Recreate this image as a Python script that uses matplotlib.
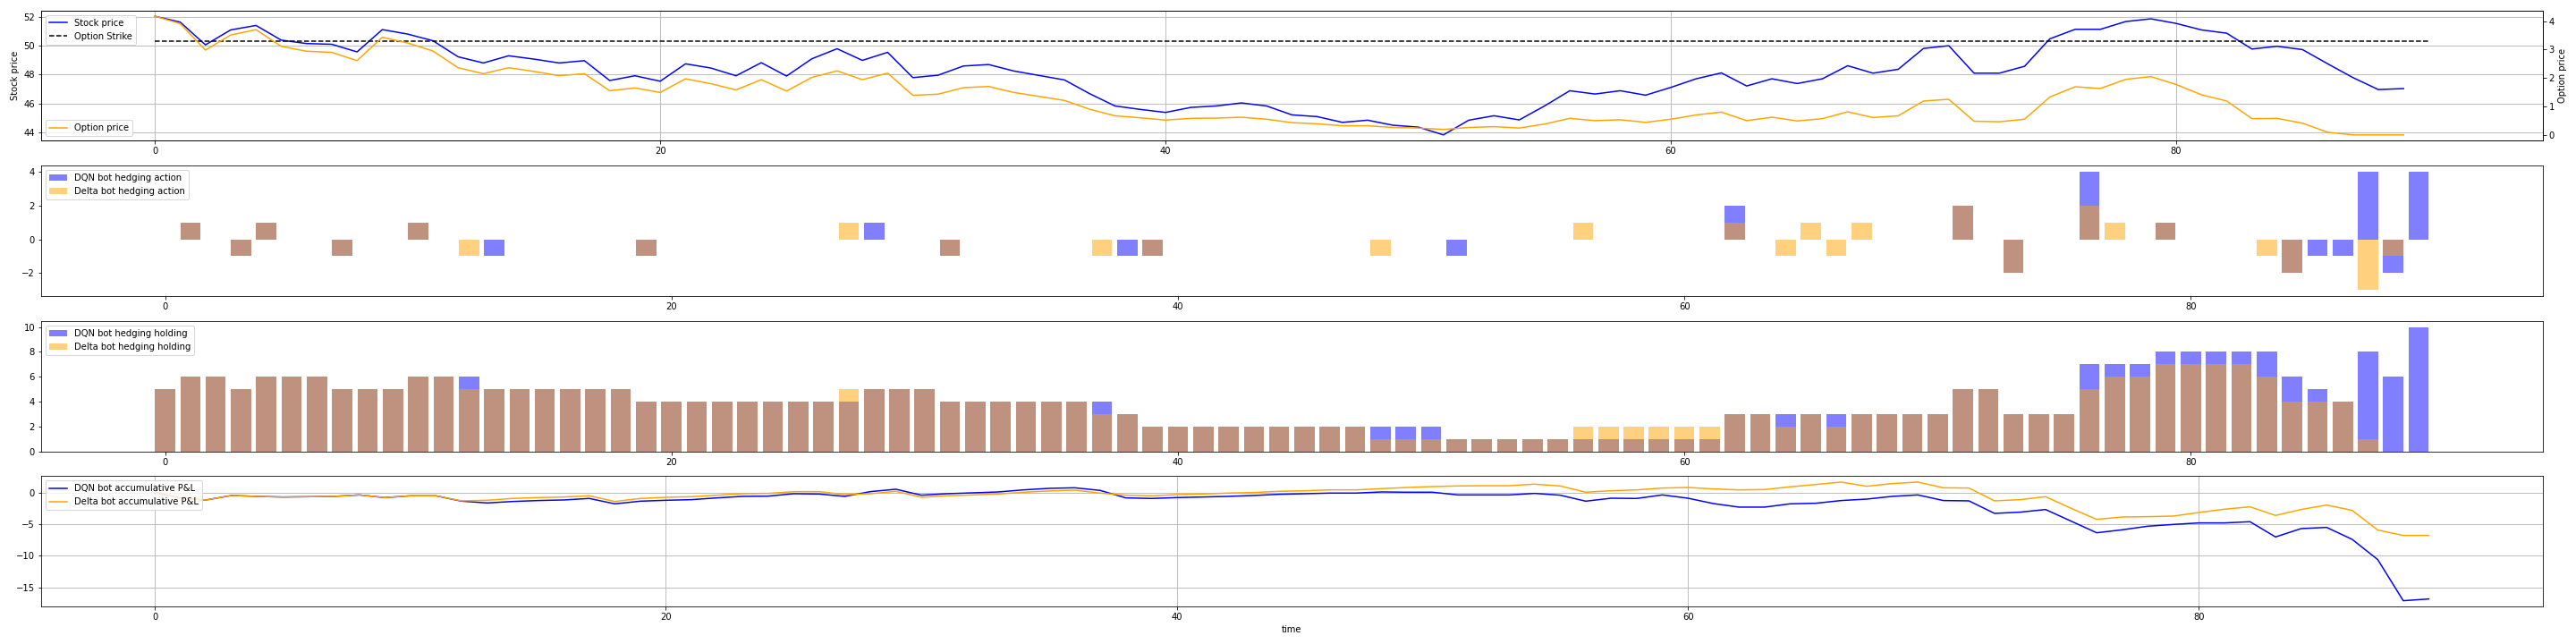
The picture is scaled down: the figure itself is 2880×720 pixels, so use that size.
#!/usr/bin/env python3
"""Hedging comparison: stock/option prices, hedging actions, holdings and P&L."""
import numpy as np
import matplotlib
matplotlib.use('Agg')
import matplotlib.pyplot as plt


# time steps
time = list(range(90))

stock_price = [
    52.06, 51.65, 50.07, 51.11, 51.42, 50.40, 50.16, 50.11, 49.58, 51.13,
    50.82, 50.36, 49.24, 48.81, 49.31, 49.08, 48.81, 48.97, 47.59, 47.92,
    47.54, 48.75, 48.46, 47.92, 48.83, 47.90, 49.10, 49.80, 48.99, 49.55,
    47.79, 47.96, 48.60, 48.70, 48.25, 47.94, 47.63, 46.67, 45.82, 45.58,
    45.37, 45.72, 45.82, 46.03, 45.82, 45.20, 45.08, 44.68, 44.83, 44.48,
    44.35, 43.81, 44.83, 45.14, 44.85, 45.82, 46.88, 46.65, 46.88, 46.57,
    47.11, 47.71, 48.12, 47.21, 47.71, 47.38, 47.71, 48.62, 48.10, 48.37,
    49.82, 50.01, 48.10, 48.10, 48.58, 50.49, 51.15, 51.15, 51.69, 51.88,
    51.56, 51.11, 50.88, 49.78, 49.97, 49.74, 48.75, 47.79, 46.96, 47.03,
]

option_price = [
    4.17, 3.91, 2.98, 3.51, 3.70, 3.11, 2.94, 2.90, 2.61, 3.43,
    3.23, 2.95, 2.36, 2.15, 2.36, 2.23, 2.08, 2.15, 1.55, 1.65,
    1.49, 1.97, 1.80, 1.58, 1.94, 1.54, 2.02, 2.25, 1.94, 2.17,
    1.39, 1.43, 1.66, 1.70, 1.49, 1.35, 1.21, 0.90, 0.67, 0.60,
    0.52, 0.58, 0.59, 0.62, 0.55, 0.43, 0.39, 0.32, 0.32, 0.26,
    0.24, 0.19, 0.26, 0.29, 0.24, 0.38, 0.58, 0.50, 0.53, 0.44,
    0.55, 0.70, 0.80, 0.50, 0.62, 0.49, 0.57, 0.81, 0.61, 0.67,
    1.19, 1.25, 0.48, 0.46, 0.55, 1.33, 1.69, 1.63, 1.95, 2.05,
    1.77, 1.41, 1.19, 0.57, 0.58, 0.41, 0.09, 0.00, 0.00, 0.00,
]

strike = 50.3
strike_span = (0, 90)

dqn_action = [
    0, 1, 0, -1, 1, 0, 0, -1, 0, 0,
    1, 0, 0, -1, 0, 0, 0, 0, 0, -1,
    0, 0, 0, 0, 0, 0, 0, 0, 1, 0,
    0, -1, 0, 0, 0, 0, 0, 0, -1, -1,
    0, 0, 0, 0, 0, 0, 0, 0, 0, 0,
    0, -1, 0, 0, 0, 0, 0, 0, 0, 0,
    0, 0, 2, 0, 0, 0, 0, 0, 0, 0,
    0, 2, 0, -2, 0, 0, 4, 0, 0, 1,
    0, 0, 0, 0, -2, -1, -1, 4, -2, 4,
]

delta_action = [
    0, 1, 0, -1, 1, 0, 0, -1, 0, 0,
    1, 0, -1, 0, 0, 0, 0, 0, 0, -1,
    0, 0, 0, 0, 0, 0, 0, 1, 0, 0,
    0, -1, 0, 0, 0, 0, 0, -1, 0, -1,
    0, 0, 0, 0, 0, 0, 0, 0, -1, 0,
    0, 0, 0, 0, 0, 0, 1, 0, 0, 0,
    0, 0, 1, 0, -1, 1, -1, 1, 0, 0,
    0, 2, 0, -2, 0, 0, 2, 1, 0, 1,
    0, 0, 0, -1, -2, 0, 0, -3, -1, 0,
]

dqn_holding = [
    5, 6, 6, 5, 6, 6, 6, 5, 5, 5,
    6, 6, 6, 5, 5, 5, 5, 5, 5, 4,
    4, 4, 4, 4, 4, 4, 4, 4, 5, 5,
    5, 4, 4, 4, 4, 4, 4, 4, 3, 2,
    2, 2, 2, 2, 2, 2, 2, 2, 2, 2,
    2, 1, 1, 1, 1, 1, 1, 1, 1, 1,
    1, 1, 3, 3, 3, 3, 3, 3, 3, 3,
    3, 5, 5, 3, 3, 3, 7, 7, 7, 8,
    8, 8, 8, 8, 6, 5, 4, 8, 6, 10,
]

delta_holding = [
    5, 6, 6, 5, 6, 6, 6, 5, 5, 5,
    6, 6, 5, 5, 5, 5, 5, 5, 5, 4,
    4, 4, 4, 4, 4, 4, 4, 5, 5, 5,
    5, 4, 4, 4, 4, 4, 4, 3, 3, 2,
    2, 2, 2, 2, 2, 2, 2, 2, 1, 1,
    1, 1, 1, 1, 1, 1, 2, 2, 2, 2,
    2, 2, 3, 3, 2, 3, 2, 3, 3, 3,
    3, 5, 5, 3, 3, 3, 5, 6, 6, 7,
    7, 7, 7, 6, 4, 4, 4, 1, 0, 0,
]

dqn_pnl = [
    0.00, -0.90, -1.18, -0.47, -0.61, -0.71, -0.66, -0.61, -0.38, -0.80,
    -0.52, -0.52, -1.37, -1.65, -1.42, -1.27, -1.18, -0.94, -1.79, -1.37,
    -1.23, -1.13, -0.85, -0.61, -0.57, -0.19, -0.24, -0.61, 0.14, 0.52,
    -0.42, -0.19, -0.05, 0.09, 0.42, 0.66, 0.75, 0.33, -0.85, -0.94,
    -0.80, -0.71, -0.61, -0.47, -0.28, -0.19, -0.09, -0.09, 0.09, 0.05,
    0.05, -0.38, -0.38, -0.38, -0.14, -0.42, -1.37, -0.90, -0.94, -0.38,
    -0.90, -1.75, -2.31, -2.31, -1.79, -1.70, -1.27, -1.04, -0.61, -0.38,
    -1.27, -1.32, -3.30, -3.11, -2.69, -4.53, -6.37, -5.90, -5.33, -5.05,
    -4.81, -4.81, -4.62, -7.03, -5.71, -5.52, -7.41, -10.61, -17.12, -16.84,
]

delta_pnl = [
    0.00, -0.90, -1.18, -0.47, -0.61, -0.71, -0.66, -0.61, -0.38, -0.80,
    -0.52, -0.52, -1.32, -1.23, -0.94, -0.80, -0.71, -0.52, -1.42, -0.94,
    -0.75, -0.66, -0.42, -0.19, -0.14, 0.14, 0.14, -0.33, -0.19, 0.19,
    -0.75, -0.52, -0.38, -0.24, 0.05, 0.24, 0.38, -0.09, -0.42, -0.52,
    -0.33, -0.24, -0.09, 0.00, 0.19, 0.28, 0.42, 0.42, 0.61, 0.80,
    0.94, 1.04, 1.08, 1.08, 1.32, 1.04, 0.05, 0.28, 0.42, 0.71,
    0.80, 0.57, 0.42, 0.47, 0.90, 1.27, 1.65, 0.99, 1.42, 1.65,
    0.75, 0.71, -1.32, -1.13, -0.66, -2.50, -4.25, -3.87, -3.82, -3.73,
    -3.16, -2.64, -2.26, -3.63, -2.69, -1.98, -2.83, -5.94, -6.79, -6.79,
]


def main():
    fig, axes = plt.subplots(4, 1, figsize=(40, 10), dpi=72)
    fig.subplots_adjust(left=0.016, right=0.987, top=0.984, bottom=0.058,
                        hspace=0.19)

    # prices
    ax = axes[0]
    ax.plot(time, stock_price, color='blue', label='Stock price')
    ax.hlines(strike, strike_span[0], strike_span[1], colors='k',
              linestyles='--', label='Option Strike')
    ax.set_ylabel('Stock price')
    ax.grid(True)
    ax.legend(loc='upper left')
    ax2 = ax.twinx()
    ax2.plot(time, option_price, color='orange', label='Option price')
    ax2.set_ylabel('Option price')
    ax2.legend(loc='lower left')

    # hedging actions
    ax = axes[1]
    ax.bar(time, dqn_action, color='blue', alpha=0.5,
           label='DQN bot hedging action')
    ax.bar(time, delta_action, color='orange', alpha=0.5,
           label='Delta bot hedging action')
    ax.legend(loc='upper left')

    # hedging holdings
    ax = axes[2]
    ax.bar(time, dqn_holding, color='blue', alpha=0.5,
           label='DQN bot hedging holding')
    ax.bar(time, delta_holding, color='orange', alpha=0.5,
           label='Delta bot hedging holding')
    ax.legend(loc='upper left')

    # accumulative P&L
    ax = axes[3]
    ax.plot(time, dqn_pnl, color='blue', label='DQN bot accumulative P&L')
    ax.plot(time, delta_pnl, color='orange',
            label='Delta bot accumulative P&L')
    ax.set_xlabel('time')
    ax.grid(True)
    ax.legend(loc='upper left')

    fig.savefig('out.png', dpi=72)
    plt.close(fig)


if __name__ == '__main__':
    main()
